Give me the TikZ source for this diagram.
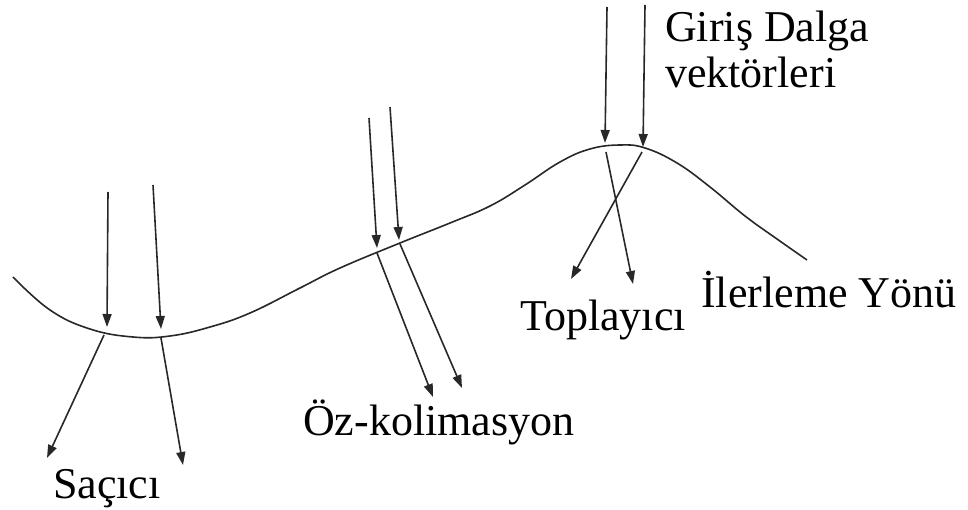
\documentclass[tikz,border=0pt]{standalone}
\usepackage{fontspec}
\setmainfont{Liberation Serif}
\usetikzlibrary{arrows.meta}
\definecolor{ink}{RGB}{40,40,40}
\begin{document}
\begin{tikzpicture}[x=1pt,y=-1pt,
  wave/.style={draw=ink,line width=1.6pt},
  ray/.style={draw=ink,line width=1.6pt,-{Triangle[length=13pt,width=9pt]}},
  lbl/.style={anchor=base west,inner sep=0pt,font=\fontsize{44}{46}\selectfont,text=black}]
\useasboundingbox (0,0) rectangle (968,510);
% wave front
\draw[wave] plot[smooth,tension=0.7] coordinates {(13,277) (50,310) (90,329) (133,337) (170,336) (210,327) (250,313) (300,288) (340,268) (400,243) (450,223) (490,206) (525,185) (560,162) (590,149) (620,145) (645,148) (677,163) (710,187) (745,216) (777,239) (807,260)};
% coordinates of rays
\coordinate (a1s) at (108,192); \coordinate (a1t) at (107,327);
\coordinate (a1o) at (104,335); \coordinate (a1e) at (47,458);
\coordinate (a2s) at (153,185); \coordinate (a2t) at (161,329);
\coordinate (a2o) at (161,338); \coordinate (a2e) at (183,465);
\coordinate (b1s) at (369,118); \coordinate (b1t) at (377,248);
\coordinate (b1o) at (377,253); \coordinate (b1e) at (433,397);
\coordinate (b2s) at (390,107); \coordinate (b2t) at (399,240);
\coordinate (b2o) at (400,244); \coordinate (b2e) at (462,388);
\coordinate (c1s) at (607,7);   \coordinate (c1t) at (605,143);
\coordinate (c1o) at (606,152); \coordinate (c1e) at (633,284);
\coordinate (c2s) at (645,5);   \coordinate (c2t) at (643,147);
\coordinate (c2o) at (642,152); \coordinate (c2e) at (571,279);
% rays
\foreach \r in {a1,a2,b1,b2,c1,c2}{
  \draw[ray] (\r s) -- (\r t);
  \draw[ray] (\r o) -- (\r e);
}
% labels
\node[lbl] (giris) at (665,42) {Giriş Dalga};
\node[lbl] (vekt) at (665,88) {vektörleri};
\node[lbl] (ilerleme) at (701,307) {İlerleme Yönü};
\node[lbl] (topl) at (520,330) {Toplayıcı};
\node[lbl] (oz) at (303,435) {Öz-kolimasyon};
\node[lbl] (sacici) at (53,498) {Saçıcı};
\end{tikzpicture}
\end{document}
